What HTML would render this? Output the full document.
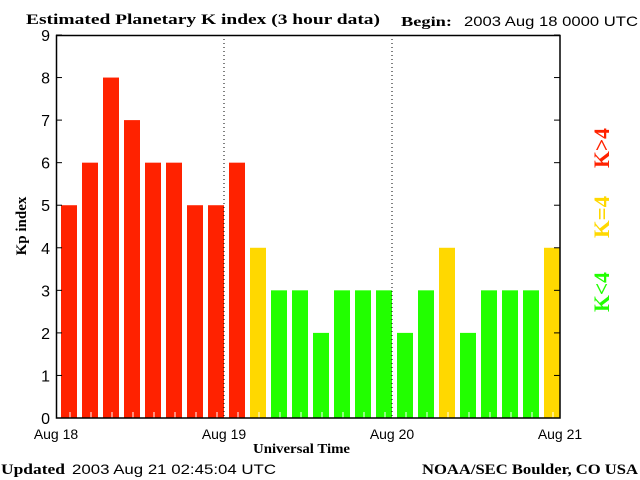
<!DOCTYPE html>
<html><head><meta charset="utf-8"><style>
body{margin:0;background:#fff;}
svg{display:block;}
.s{font-family:"Liberation Serif",serif;font-weight:bold;}
.a{font-family:"Liberation Sans",sans-serif;}
</style></head><body>
<svg id="c" width="640" height="480" xmlns="http://www.w3.org/2000/svg">
<text class="s" x="26" y="24" font-size="15" textLength="354" lengthAdjust="spacingAndGlyphs">Estimated Planetary K index (3 hour data)</text>
<text class="s" x="401" y="26" font-size="14" textLength="51" lengthAdjust="spacingAndGlyphs">Begin:</text>
<text class="a" x="464" y="26" font-size="14" textLength="174" lengthAdjust="spacingAndGlyphs">2003 Aug 18 0000 UTC</text>
<g id="bars"></g>
<line x1="224" y1="35" x2="224" y2="418" stroke="#000" stroke-dasharray="1,3"/>
<line x1="392" y1="35" x2="392" y2="418" stroke="#000" stroke-dasharray="1,3"/>
<rect x="56.5" y="35.5" width="503.5" height="382.5" fill="none" stroke="#000" stroke-width="1.5"/>
<g id="yt"></g>
<text class="s" x="0" y="0" font-size="15" transform="translate(26,226) rotate(-90)" text-anchor="middle">Kp index</text>
<text class="a" x="56" y="439" font-size="14" text-anchor="middle">Aug 18</text>
<text class="a" x="224" y="439" font-size="14" text-anchor="middle">Aug 19</text>
<text class="a" x="392" y="439" font-size="14" text-anchor="middle">Aug 20</text>
<text class="a" x="560" y="439" font-size="14" text-anchor="middle">Aug 21</text>
<text class="s" x="253" y="453" font-size="14" textLength="97" lengthAdjust="spacingAndGlyphs">Universal Time</text>
<text class="s" x="1" y="474" font-size="15" textLength="64" lengthAdjust="spacingAndGlyphs">Updated</text>
<text class="a" x="72" y="474" font-size="14" textLength="204" lengthAdjust="spacingAndGlyphs">2003 Aug 21 02:45:04 UTC</text>
<text class="s" x="422" y="474" font-size="15" textLength="216" lengthAdjust="spacingAndGlyphs">NOAA/SEC Boulder, CO USA</text>
<text class="s" font-size="22" fill="#ff2200" text-anchor="middle" transform="translate(609,148) rotate(-90)" textLength="40" lengthAdjust="spacingAndGlyphs">K&gt;4</text>
<text class="s" font-size="22" fill="#ffd800" text-anchor="middle" transform="translate(609,217) rotate(-90)" textLength="42" lengthAdjust="spacingAndGlyphs">K=4</text>
<text class="s" font-size="22" fill="#22ff00" text-anchor="middle" transform="translate(609,292) rotate(-90)" textLength="40" lengthAdjust="spacingAndGlyphs">K&lt;4</text>
</svg>
<script>
const kpValues=[5,6,8,7,6,6,5,5,6,4,3,3,2,3,3,3,2,3,4,2,3,3,3,4];
const yTicks=[0,1,2,3,4,5,6,7,8,9];
const NS='http://www.w3.org/2000/svg';
const x0=56,x1=560,yB=418,yT=35;
function yS(v){return yB-(yB-yT)*v/9;}
function xS(i){return x0+(x1-x0)*i/kpValues.length;}
const bars=document.getElementById('bars');
kpValues.forEach((v,i)=>{
  const r=document.createElementNS(NS,'rect');
  const c=v>4?'#ff2200':v==4?'#ffd800':'#22ff00';
  r.setAttribute('x',xS(i)+5);r.setAttribute('width',16);
  r.setAttribute('y',yS(v));r.setAttribute('height',yB-yS(v));r.setAttribute('fill',c);
  
  
  bars.appendChild(r);
  const t=document.createElementNS(NS,'line');
  const tx=xS(i)+14;
  t.setAttribute('x1',tx);t.setAttribute('x2',tx);t.setAttribute('y1',yB-6);t.setAttribute('y2',yB);
  t.setAttribute('stroke','#fff');
  
  
  bars.appendChild(t);
});
const yt=document.getElementById('yt');
yTicks.forEach(v=>{
  const y=yS(v);
  const l=document.createElementNS(NS,'line');
  l.setAttribute('x1',56);l.setAttribute('x2',62);l.setAttribute('y1',y);l.setAttribute('y2',y);l.setAttribute('stroke','#000');
  
  
  yt.appendChild(l);
  const r=document.createElementNS(NS,'line');
  r.setAttribute('x1',554);r.setAttribute('x2',560);r.setAttribute('y1',y);r.setAttribute('y2',y);r.setAttribute('stroke','#000');
  
  
  yt.appendChild(r);
  const t=document.createElementNS(NS,'text');
  t.setAttribute('x',50);t.setAttribute('y',y+6);t.setAttribute('text-anchor','end');
  t.setAttribute('font-size','16');t.setAttribute('class','a');t.textContent=v;
  
  
  yt.appendChild(t);
});
</script>
</body></html>
